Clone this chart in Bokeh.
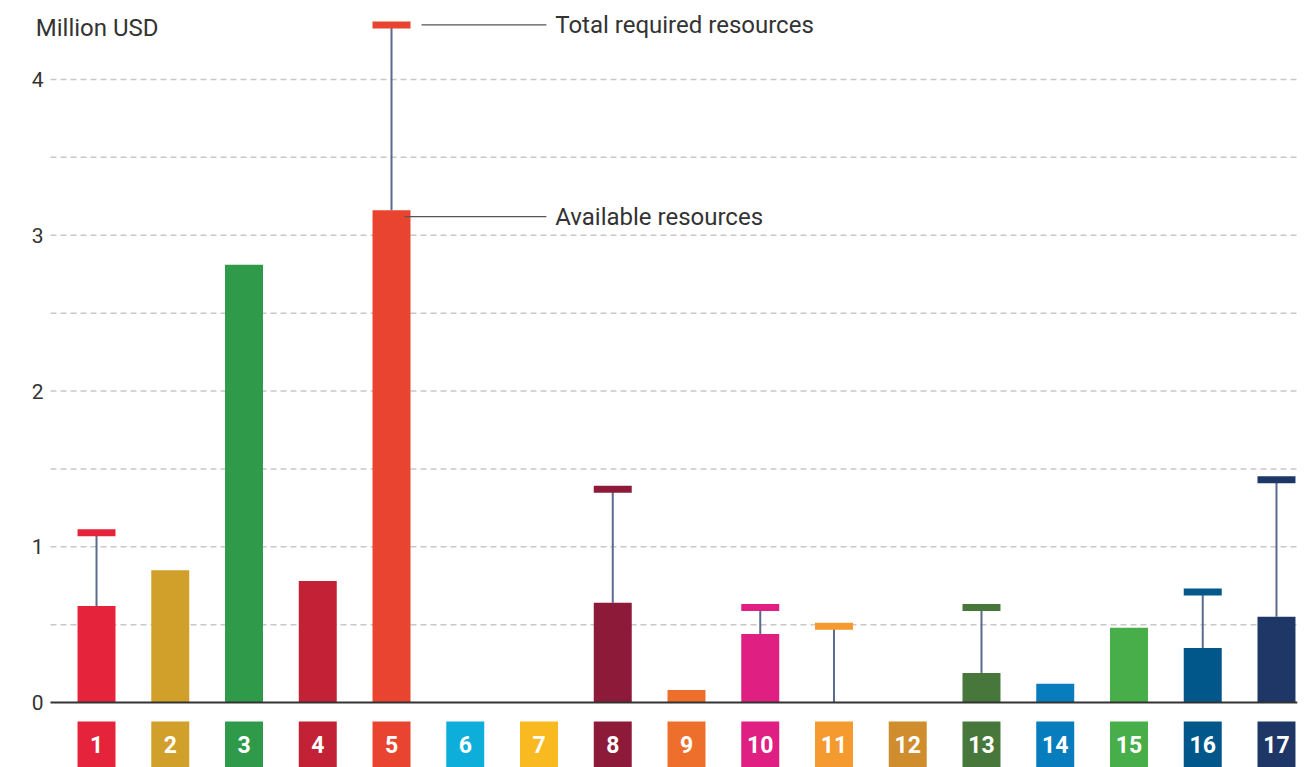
from bokeh.plotting import figure
from bokeh.models import ColumnDataSource
from bokeh.core.properties import value
from bokeh.embed import file_html
from bokeh.resources import INLINE

goals = list(range(1, 18))
goal_labels = [str(g) for g in goals]
available = [0.62, 0.85, 2.81, 0.78, 3.16, 0.0, 0.0, 0.64, 0.08, 0.44, 0.0, 0.0, 0.19, 0.12, 0.48, 0.35, 0.55]
required = [1.09, None, None, None, 4.35, None, None, 1.37, None, 0.61, 0.49, None, 0.61, None, None, 0.71, 1.43]
colors = ["#E5233A", "#D0A02A", "#2E9A4A", "#C32135", "#E8442F", "#0EAEDB", "#F9B920", "#8E1A3A",
          "#ED6F2B", "#E01F83", "#F59A2F", "#CF8D2E", "#48773C", "#087DBD", "#47AE4A", "#01568A", "#1E3766"]
y_ticks = [0, 1, 2, 3, 4]
y_tick_labels = ["0", "1", "2", "3", "4"]
grid_ticks = [0.5, 1, 1.5, 2, 2.5, 3, 3.5, 4]
y_label = "Million USD"
legend_total = "Total required resources"
legend_avail = "Available resources"

BAR_W = 0.515
FONT = "Roboto"
TEXT_COLOR = "#333333"
STEM_COLOR = "#5a6b8f"
X_MIN, X_MAX = -0.302, 17.285
AX_LEFT = 0.376  # where the plotting area (grid / baseline) begins

p = figure(width=1313, height=767, output_backend="svg", toolbar_location=None,
           x_range=(X_MIN, X_MAX), y_range=(-0.417, 4.507),
           min_border_left=0, min_border_right=16, min_border_top=0, min_border_bottom=0)
p.outline_line_color = None
p.xaxis.visible = False
p.yaxis.visible = False
p.xgrid.grid_line_color = None
p.ygrid.grid_line_color = None

# dashed grid lines
p.segment(x0=AX_LEFT, x1=X_MAX, y0=grid_ticks, y1=grid_ticks,
          line_color="#c8c8c8", line_width=1.5, line_dash="6 4")

# y tick labels
p.text(x=AX_LEFT - 0.095, y=y_ticks, text=y_tick_labels, text_align="right", text_baseline="middle",
       text_color=TEXT_COLOR, text_font=value(FONT), text_font_size="21px")

src = ColumnDataSource(dict(x=goals, avail=available, color=colors, lab=goal_labels))
p.vbar(x="x", top="avail", bottom=0, width=BAR_W, fill_color="color", line_color=None, source=src)

# required markers and stems
rx = [g for g, r in zip(goals, required) if r is not None]
rv = [r for r in required if r is not None]
ra = [a for a, r in zip(available, required) if r is not None]
rc = [c for c, r in zip(colors, required) if r is not None]
rsrc = ColumnDataSource(dict(x=rx, req=rv, avail=ra, color=rc))
p.segment(x0="x", y0="avail", x1="x", y1="req", line_color=STEM_COLOR, line_width=2, source=rsrc)
p.rect(x="x", y="req", width=BAR_W, height=7, height_units="screen",
       fill_color="color", line_color=None, source=rsrc)

# baseline
p.segment(x0=[AX_LEFT], x1=[X_MAX], y0=[0], y1=[0], line_color="#333333", line_width=2)

# goal boxes below
p.quad(left=[g - BAR_W / 2 for g in goals], right=[g + BAR_W / 2 for g in goals],
       bottom=-0.6, top=-0.122, fill_color=colors, line_color=None)
p.text(x="x", y=-0.27, text="lab", source=src, text_align="center", text_baseline="middle",
       text_color="white", text_font=value(FONT), text_font_style="bold", text_font_size="23px")

# annotations for goal 5
i5 = 4
g5 = goals[i5]
p.segment(x0=[g5 + 0.407, g5 + 0.176], y0=[required[i5], available[i5] - 0.04],
          x1=[g5 + 2.10, g5 + 2.10], y1=[required[i5], available[i5] - 0.04],
          line_color="#555555", line_width=1.3)
p.text(x=[g5 + 2.22, g5 + 2.22], y=[required[i5], available[i5] - 0.04],
       text=[legend_total, legend_avail], text_align="left", text_baseline="middle",
       text_color=TEXT_COLOR, text_font=value(FONT), text_font_size="24px")

# unit label
p.text(x=[AX_LEFT - 0.2], y=[4.33], text=[y_label], text_align="left", text_baseline="middle",
       text_color=TEXT_COLOR, text_font=value(FONT), text_font_size="24px")

open("out.html", "w").write(file_html(p, INLINE))
